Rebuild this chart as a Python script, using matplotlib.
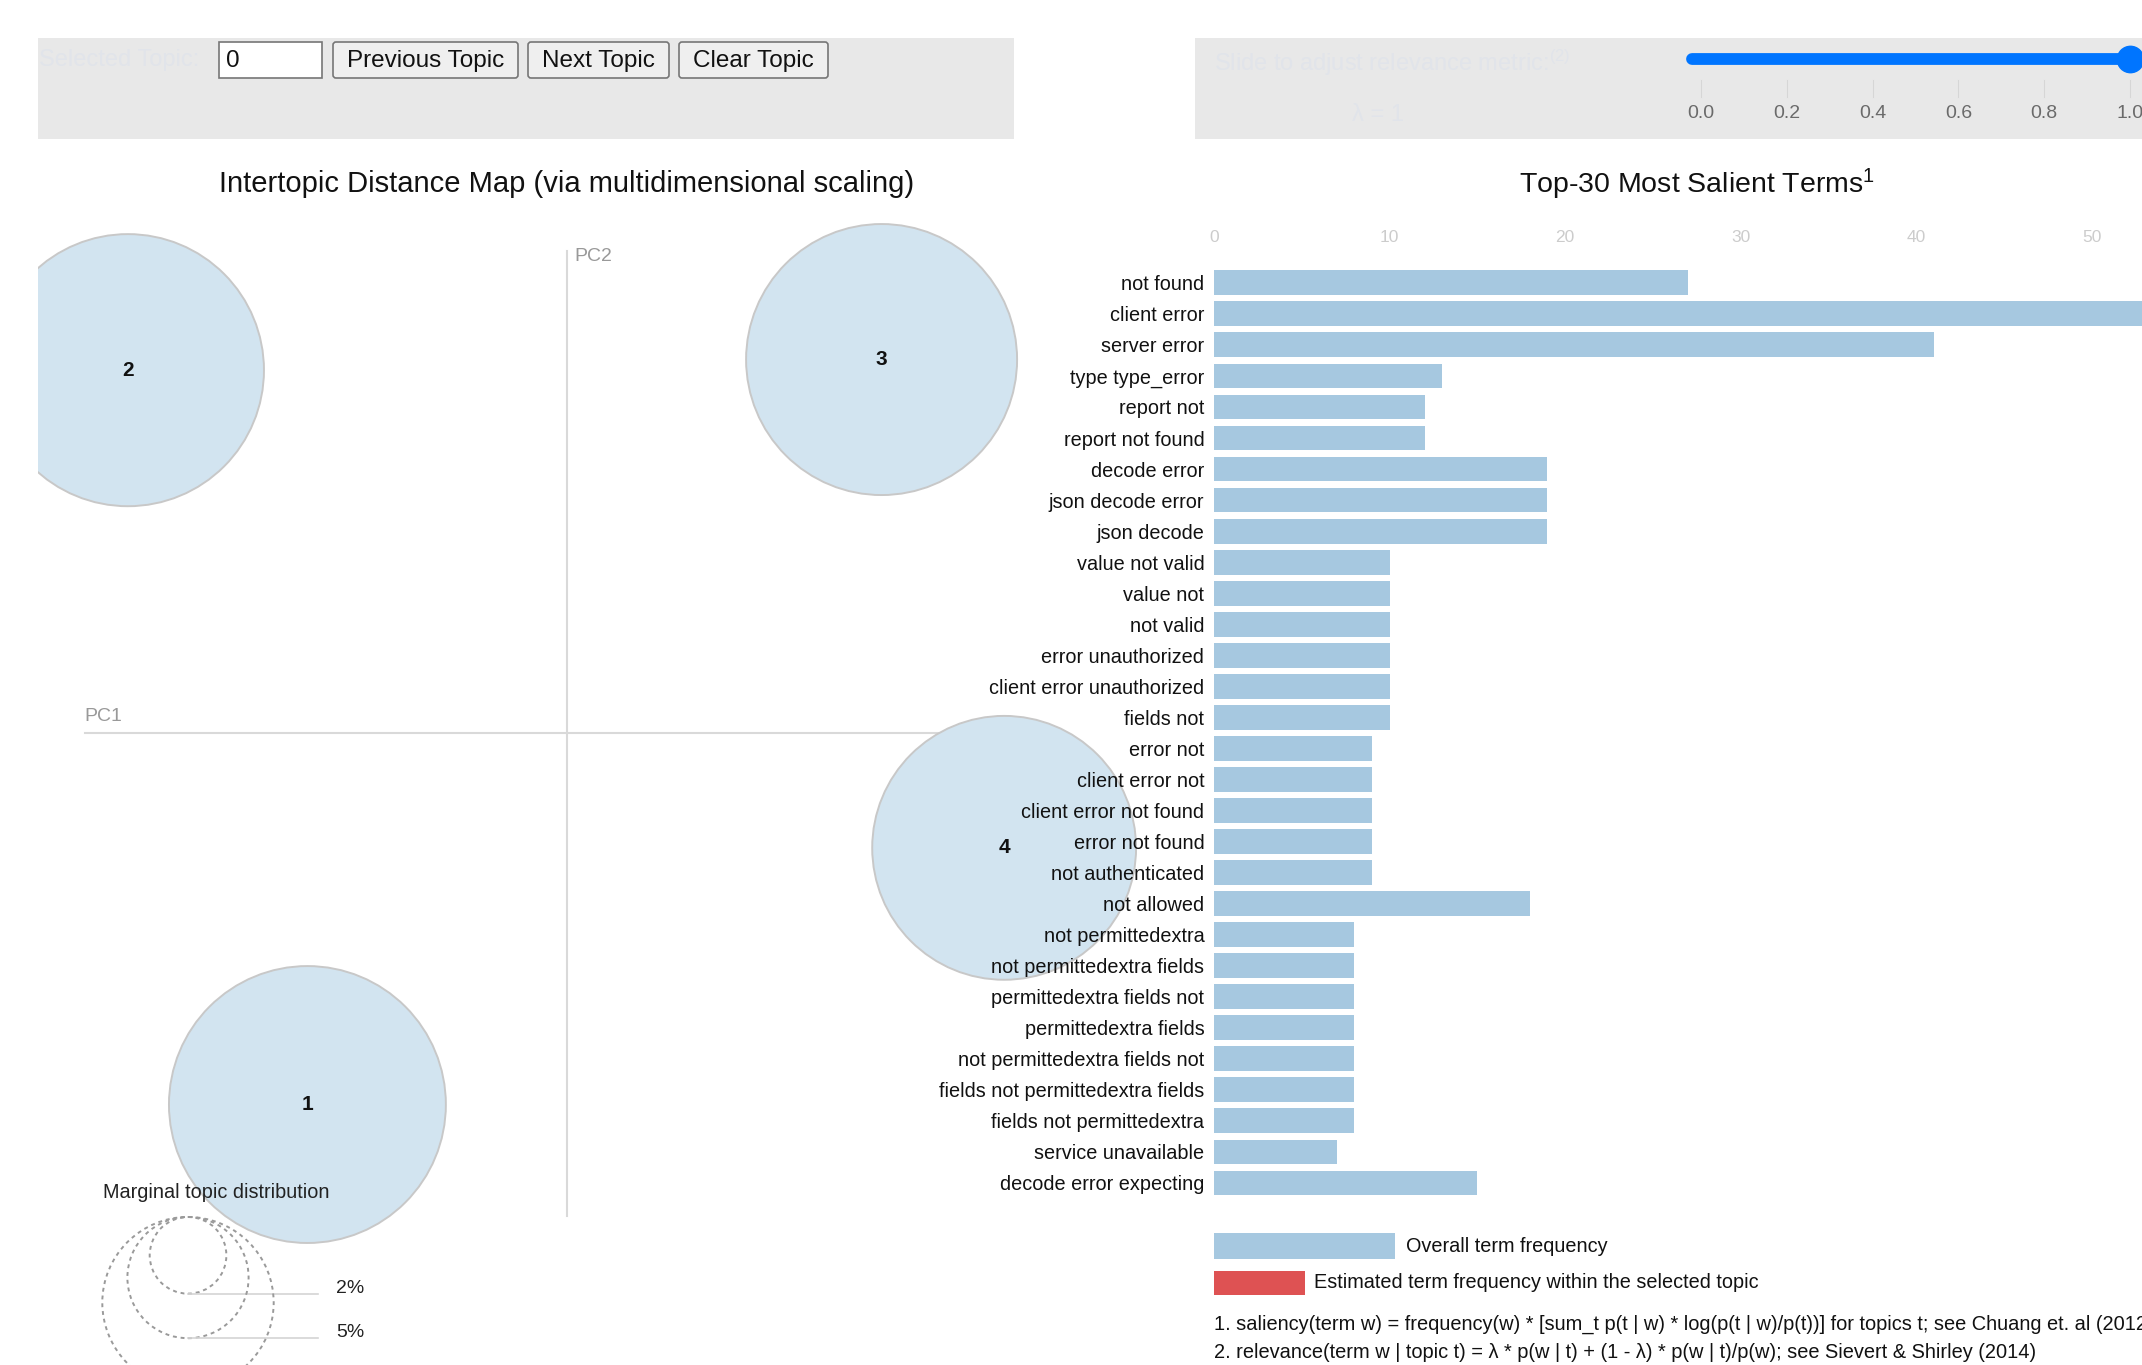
import matplotlib
matplotlib.use("Agg")
import matplotlib.pyplot as plt
from matplotlib.patches import Circle, Rectangle, FancyBboxPatch
from matplotlib.transforms import Affine2D
import numpy as np

plt.rcParams["font.family"] = ["Liberation Sans", "DejaVu Sans"]
plt.rcParams["mathtext.fontset"] = "custom"
plt.rcParams["mathtext.rm"] = "Liberation Sans"
plt.rcParams["mathtext.it"] = "Liberation Sans:italic"
plt.rcParams["mathtext.bf"] = "Liberation Sans:bold"

# ---- data ----
terms = [
    "not found", "client error", "server error", "type type_error", "report not",
    "report not found", "decode error", "json decode error", "json decode",
    "value not valid", "value not", "not valid", "error unauthorized",
    "client error unauthorized", "fields not", "error not", "client error not",
    "client error not found", "error not found", "not authenticated", "not allowed",
    "not permittedextra", "not permittedextra fields", "permittedextra fields not",
    "permittedextra fields", "not permittedextra fields not",
    "fields not permittedextra fields", "fields not permittedextra",
    "service unavailable", "decode error expecting",
]
overall_freq = [27, 56, 41, 13, 12, 12, 19, 19, 19, 10, 10, 10, 10, 10, 10,
                9, 9, 9, 9, 9, 18, 8, 8, 8, 8, 8, 8, 8, 7, 15]
freq_ticks = [0, 10, 20, 30, 40, 50]

topic_ids = [1, 2, 3, 4]
topic_x = [-0.269, -0.455, 0.326, 0.453]     # PC1
topic_y = [-0.385, 0.376, 0.387, -0.119]     # PC2
topic_share = [26.1, 25.2, 25.0, 23.7]       # marginal topic distribution (%)
legend_share = [2, 5, 10]

lambda_value = 1.0
lambda_ticks = [0.0, 0.2, 0.4, 0.6, 0.8, 1.0]

# ---- figure in pixel units ----
W, H = 2142, 1365
fig = plt.figure(figsize=(W / 100, H / 100), dpi=100)
# top-left pixel coordinates -> display
P = Affine2D().scale(1, -1).translate(0, H).scale(1 / 100) + fig.dpi_scale_trans


def box(x0, y0, x1, y1):
    return [x0 / W, 1 - y1 / H, (x1 - x0) / W, (y1 - y0) / H]


# control panels
fig.add_artist(Rectangle((38, 38), 976, 101, transform=P, fc="#e8e8e8", ec="none", zorder=0.5))
fig.add_artist(Rectangle((1195, 38), 960, 101, transform=P, fc="#e8e8e8", ec="none", zorder=0.5))
fig.text(39, 60, "Selected Topic:", transform=P, fontsize=17, color="#e1e4ea", va="center")
fig.add_artist(Rectangle((219, 42), 103, 36, transform=P, fc="white", ec="#767676", lw=1.2))
fig.text(226, 61, "0", transform=P, fontsize=17.5, color="#111111", va="center")
for label, x0, x1 in [("Previous Topic", 333, 518), ("Next Topic", 528, 669),
                      ("Clear Topic", 679, 828)]:
    fig.add_artist(FancyBboxPatch((x0, 42), x1 - x0, 36, transform=P,
                                  boxstyle="round,pad=0,rounding_size=3",
                                  fc="#efefef", ec="#767676", lw=1.2))
    fig.text((x0 + x1) / 2, 61, label, transform=P, fontsize=17.5, color="#111111",
             ha="center", va="center")

fig.text(1214, 63, "Slide to adjust relevance metric:$^{(2)}$", transform=P,
         fontsize=17, color="#e1e4ea", va="center")
fig.text(1352, 115, "λ = 1", transform=P, fontsize=17, color="#e1e4ea", va="center")

ax_sl = fig.add_axes(box(1701, 30, 2130, 130))
ax_sl.set_zorder(2)
ax_sl.set_xlim(0, 1)
ax_sl.set_ylim(0, 1)
ax_sl.axis("off")
ax_sl.plot([-0.02, lambda_value], [0.71, 0.71], color="#0075ff", lw=8.5,
           solid_capstyle="round", clip_on=False)
ax_sl.plot([lambda_value], [0.71], "o", ms=19, color="#0075ff", clip_on=False)
for t in lambda_ticks:
    ax_sl.plot([t, t], [0.33, 0.50], color="#d6d6d6", lw=0.8, clip_on=False)
    ax_sl.text(t, 0.17, f"{t:.1f}", ha="center", va="center", fontsize=14,
               color="#6a6a6a", clip_on=False)

# titles
fig.text(567, 184, "Intertopic Distance Map (via multidimensional scaling)",
         transform=P, fontsize=21, color="#111111", ha="center", va="center")
fig.text(1697, 184, "Top-30 Most Salient Terms$^{1}$", transform=P,
         fontsize=20.5, color="#111111", ha="center", va="center")

# ---- intertopic distance map ----
ox, oy, s = 567, 733, 965        # pixel centre of PC axes, pixels per unit
k = 27.1 / s                     # radius per sqrt(%)
mx0, my0, mx1, my1 = 38, 150, 1200, 1365
ax_map = fig.add_axes(box(mx0, my0, mx1, my1))
ax_map.set_xlim((mx0 - ox) / s, (mx1 - ox) / s)
ax_map.set_ylim((oy - my1) / s, (oy - my0) / s)
ax_map.axis("off")
ax_map.set_zorder(1)

ax_map.plot([-0.5, 0.5], [0, 0], color="#d9d9d9", lw=1.5, zorder=1)
ax_map.plot([0, 0], [-0.5, 0.5], color="#d9d9d9", lw=1.5, zorder=1)
ax_map.text(-0.5, 0.0176, "PC1", fontsize=14, color="#999999", ha="left", va="center")
ax_map.text(0.008, 0.494, "PC2", fontsize=14, color="#999999", ha="left", va="center")

for tid, x, y, f in zip(topic_ids, topic_x, topic_y, topic_share):
    ax_map.add_patch(Circle((x, y), k * np.sqrt(f), fc="#d2e4f0", ec="#c8c8c8",
                            lw=1.4, zorder=2))
    ax_map.text(x, y, str(tid), fontsize=15, fontweight="bold", color="#111111",
                ha="center", va="center", zorder=3)

# marginal topic distribution legend
lcx, ltop = (188 - ox) / s, (oy - 1217) / s
ax_map.text((103 - ox) / s, (oy - 1192) / s, "Marginal topic distribution",
            fontsize=14.3, color="#222222", ha="left", va="center", zorder=4)
ybottom = ax_map.get_ylim()[0]
for f in legend_share:
    r = k * np.sqrt(f)
    ax_map.add_patch(Circle((lcx, ltop - r), r, fill=False, ec="#9a9a9a", lw=1.4,
                            ls=(0, (2, 2)), zorder=4))
    ax_map.plot([lcx, (318 - ox) / s], [ltop - 2 * r, ltop - 2 * r], color="#d4d4d4",
                lw=1.2, zorder=4)
    label_y = ltop - 2 * r + 5.5 / s
    if label_y - 12 / s > ybottom:   # label falls below the visible page otherwise
        ax_map.text((336 - ox) / s, label_y, f"{f}%", fontsize=14,
                    color="#222222", ha="left", va="center", zorder=4)

# ---- bar chart of salient terms ----
pitch, unit = 31.04, 17.55
bar_top = 282.8 - pitch / 2
bar_bot = bar_top + pitch * len(terms)
ax_bar = fig.add_axes(box(1214, bar_top, 1214 + 60 * unit, bar_bot))
ax_bar.set_zorder(3)
ax_bar.patch.set_visible(False)
pos = np.arange(len(terms))
ax_bar.barh(pos, overall_freq, height=0.8, color="#a6c8e0")
ax_bar.set_xlim(0, 60)
ax_bar.set_ylim(len(terms) - 0.5, -0.5)
ax_bar.set_yticks(pos, terms)
ax_bar.tick_params(axis="y", length=0, pad=7, labelsize=14.3, labelcolor="#111111")
ax_bar.xaxis.tick_top()
ax_bar.set_xticks(freq_ticks)
ax_bar.tick_params(axis="x", length=0, pad=16, labelsize=12.5, labelcolor="#cccccc")
for sp in ax_bar.spines.values():
    sp.set_visible(False)

# legend and footnotes
fig.add_artist(Rectangle((1214, 1233), 181, 26, transform=P, fc="#a6c8e0", ec="none"))
fig.text(1406, 1246, "Overall term frequency", transform=P, fontsize=14.3,
         color="#111111", va="center")
fig.add_artist(Rectangle((1214, 1271), 91, 24, transform=P, fc="#de5253", ec="none"))
fig.text(1314, 1283, "Estimated term frequency within the selected topic", transform=P,
         fontsize=14.3, color="#111111", va="center")
fig.text(1214, 1324, "1. saliency(term w) = frequency(w) * [sum_t p(t | w) * "
         "log(p(t | w)/p(t))] for topics t; see Chuang et. al (2012)", transform=P,
         fontsize=14.4, color="#111111", va="center")
fig.text(1214, 1352, "2. relevance(term w | topic t) = λ * p(w | t) + (1 - λ) * "
         "p(w | t)/p(w); see Sievert & Shirley (2014)", transform=P,
         fontsize=14.4, color="#111111", va="center")

fig.savefig("out.png", dpi=100)
